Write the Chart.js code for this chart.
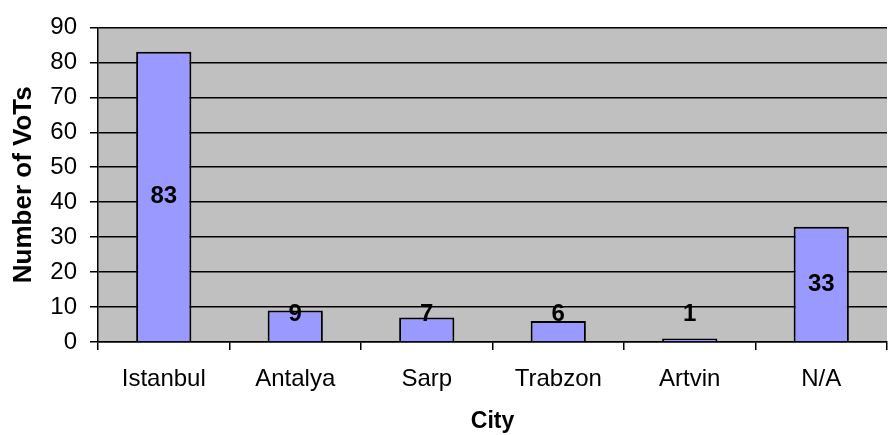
<!DOCTYPE html>
<html>
<head>
<meta charset="utf-8">
<script src="https://cdn.jsdelivr.net/npm/chart.js@4.4.1/dist/chart.umd.min.js"></script>
<style>
  html, body { margin: 0; padding: 0; background: #ffffff; }
  #wrap { width: 888px; height: 435px; position: relative; }
</style>
</head>
<body>
<div id="wrap"><canvas id="c" width="888" height="435"></canvas></div>
<script>
const categories = ["Istanbul", "Antalya", "Sarp", "Trabzon", "Artvin", "N/A"];
const votValues = [83, 9, 7, 6, 1, 33];
const yTicks = [0, 10, 20, 30, 40, 50, 60, 70, 80, 90];
const xTitle = "City";
const yTitle = "Number of VoTs";

const plotBg = {
  id: 'plotBg',
  beforeDraw(chart) {
    const a = chart.chartArea, ctx = chart.ctx;
    ctx.save();
    ctx.fillStyle = '#C0C0C0';
    ctx.fillRect(a.left, a.top, a.right - a.left, a.bottom - a.top);
    ctx.restore();
  }
};

const barLabels = {
  id: 'barLabels',
  afterDatasetsDraw(chart) {
    const ctx = chart.ctx;
    const meta = chart.getDatasetMeta(0);
    ctx.save();
    ctx.font = 'bold 24px "Liberation Sans", Arial, sans-serif';
    ctx.fillStyle = '#000';
    ctx.textAlign = 'center';
    ctx.textBaseline = 'middle';
    meta.data.forEach((bar, i) => {
      const center = (bar.y + bar.base) / 2;
      const y = Math.min(center, bar.base - 27);
      ctx.fillText(String(votValues[i]), bar.x, y);
    });
    ctx.restore();
  }
};

new Chart(document.getElementById('c'), {
  type: 'bar',
  data: {
    labels: categories,
    datasets: [{
      data: votValues,
      backgroundColor: '#9999FF',
      borderColor: '#000000',
      borderWidth: 2,
      barPercentage: 0.42,
      categoryPercentage: 1.0
    }]
  },
  options: {
    responsive: false,
    animation: false,
    layout: { padding: { top: 27, right: 1, left: 0, bottom: 0 } },
    plugins: { legend: { display: false }, tooltip: { enabled: false } },
    scales: {
      x: {
        offset: true,
        afterFit(s) { s.height = 93; },
        grid: { offset: true, drawOnChartArea: false, color: '#000', lineWidth: 1.5, tickLength: 8, tickColor: '#000' },
        border: { color: '#000', width: 1.5 },
        ticks: { color: '#000', padding: 15, font: { family: '"Liberation Sans", Arial, sans-serif', size: 24 } },
        title: { display: true, text: xTitle, color: '#000', padding: { top: 0, bottom: 0 },
                 font: { family: '"Liberation Sans", Arial, sans-serif', size: 23, weight: 'bold' } }
      },
      y: {
        min: 0, max: 90,
        afterFit(s) { s.width = 98; },
        afterBuildTicks(s) { s.ticks = yTicks.map(v => ({ value: v })); },
        grid: { color: '#000', lineWidth: 1.5, tickLength: 8, tickColor: '#000' },
        border: { color: '#000', width: 1.5 },
        ticks: { color: '#000', padding: 13, font: { family: '"Liberation Sans", Arial, sans-serif', size: 24 } },
        title: { display: true, text: yTitle, color: '#000', padding: { top: 8, bottom: 0 },
                 font: { family: '"Liberation Sans", Arial, sans-serif', size: 26, weight: 'bold' } }
      }
    }
  },
  plugins: [plotBg, barLabels]
});
</script>
</body>
</html>
